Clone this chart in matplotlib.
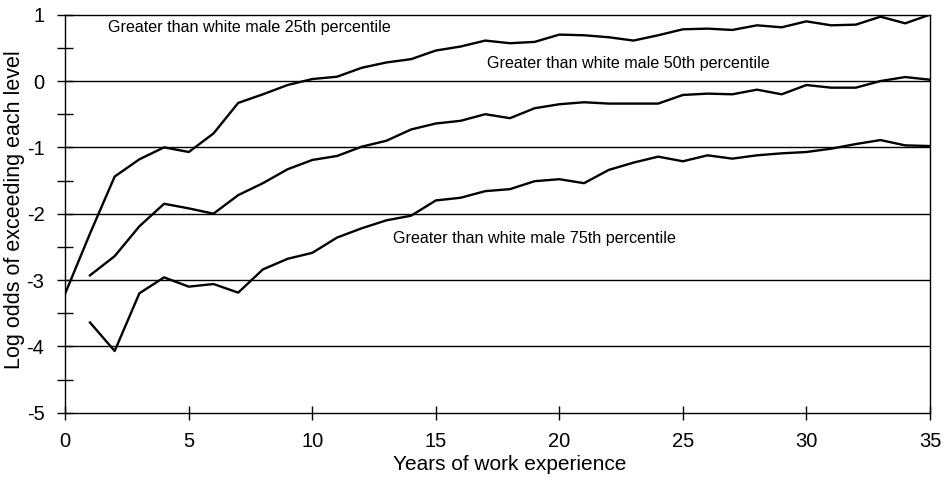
import matplotlib
matplotlib.use("Agg")
import matplotlib.pyplot as plt
from matplotlib.ticker import MultipleLocator

years = list(range(0, 36))
years_from1 = list(range(1, 36))

p25 = [-3.2, -2.3, -1.44, -1.18, -1.0, -1.07, -0.79, -0.33, -0.2, -0.06,
       0.03, 0.065, 0.2, 0.28, 0.33, 0.46, 0.52, 0.61, 0.57, 0.59,
       0.70, 0.69, 0.66, 0.61, 0.69, 0.78, 0.79, 0.77, 0.84, 0.81,
       0.90, 0.84, 0.85, 0.97, 0.87, 1.0]

p50 = [-2.93, -2.64, -2.19, -1.85, -1.92, -2.0, -1.72, -1.54, -1.33, -1.19,
       -1.13, -0.99, -0.9, -0.73, -0.64, -0.6, -0.5, -0.56, -0.41, -0.35,
       -0.32, -0.34, -0.34, -0.34, -0.21, -0.19, -0.2, -0.13, -0.2, -0.06,
       -0.1, -0.1, 0.0, 0.06, 0.02]

p75 = [-3.64, -4.07, -3.2, -2.96, -3.1, -3.06, -3.19, -2.84, -2.68, -2.59,
       -2.36, -2.22, -2.1, -2.03, -1.8, -1.76, -1.66, -1.63, -1.51, -1.48,
       -1.54, -1.34, -1.23, -1.14, -1.21, -1.12, -1.17, -1.12, -1.09, -1.07,
       -1.02, -0.95, -0.89, -0.97, -0.98]

labels = ["Greater than white male 25th percentile",
          "Greater than white male 50th percentile",
          "Greater than white male 75th percentile"]

plt.rcParams['font.family'] = ['Liberation Sans', 'DejaVu Sans']
plt.rcParams['axes.unicode_minus'] = False

fig = plt.figure(figsize=(9.46, 4.82), dpi=100)
ax = fig.add_axes([0.069, 0.1438, 0.914, 0.8257])

for yv in range(-4, 1):
    ax.axhline(yv, color='black', lw=1.0, zorder=1)

ax.plot(years, p25, color='black', lw=1.7, zorder=3)
ax.plot(years_from1, p50, color='black', lw=1.7, zorder=3)
ax.plot(years_from1, p75, color='black', lw=1.7, zorder=3)

ax.text(1.73, 0.81, labels[0], fontsize=11.6, va='center', ha='left')
ax.text(17.06, 0.27, labels[1], fontsize=11.6, va='center', ha='left')
ax.text(13.28, -2.38, labels[2], fontsize=11.6, va='center', ha='left')

ax.set_xlim(0, 35)
ax.set_ylim(-5, 1)
ax.xaxis.set_major_locator(MultipleLocator(5))
ax.yaxis.set_major_locator(MultipleLocator(1))
ax.yaxis.set_minor_locator(MultipleLocator(0.5))
ax.tick_params(axis='x', which='both', direction='inout', length=10, width=1.0,
               labelsize=14.5, top=False, pad=9)
ax.tick_params(axis='y', which='both', direction='inout', length=12, width=1.0,
               labelsize=14.5, right=False, pad=9)
for s in ax.spines.values():
    s.set_linewidth(1.0)

ax.set_xlabel("Years of work experience", fontsize=15, labelpad=3, x=0.514)
ax.set_ylabel("Log odds of exceeding each level", fontsize=15.5, labelpad=1, y=0.51)

fig.savefig("out.png", dpi=100)
